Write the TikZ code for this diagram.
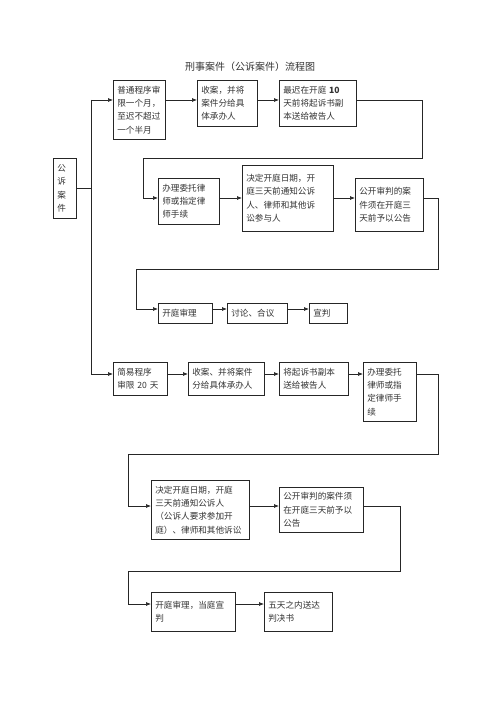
\documentclass[tikz,border=0pt]{standalone}
\usepackage{fontspec}
\setmainfont{Noto Sans CJK SC}
\usetikzlibrary{arrows.meta}
\newcommand\mybox[6]{\pgfmathsetmacro\bxtw{#4-8}\node[box, minimum width=#4pt, minimum height=#5pt, text width=\bxtw pt] (#1) at (#2,#3) {#6};}
\begin{document}
\begin{tikzpicture}[x=1pt,y=-1pt,
 box/.style={draw=black!85, line width=0.7pt, anchor=north west, inner xsep=4pt, inner ysep=2pt, align=left, font=\fontsize{8.6}{13.3}\selectfont, text=black!80},
 arr/.style={draw=black!85, line width=0.7pt, -{Latex[length=5pt,width=4pt]}},
 ln/.style={draw=black!85, line width=0.7pt}]
\fill[white] (0,0) rectangle (500,708);
\useasboundingbox (0,0) rectangle (500,708);
\node[font=\fontsize{10}{12}\selectfont, text=black!80] (title) at (250,67) {刑事案件（公诉案件）流程图};
% left
\mybox{gs}{53}{158}{23}{60}{公\\诉\\案\\件}
% row 1
\mybox{b1}{113}{80}{52}{59}{普通程序审\\限一个月，\\至迟不超过\\一个半月}
\mybox{b2}{197}{80}{60}{46}{收案，并将\\案件分给具\\体承办人}
\mybox{b3}{279}{80}{77}{46}{最迟在开庭 \textbf{10}\\天前将起诉书副\\本送给被告人}
% row 2
\mybox{c1}{158}{178}{61}{46}{办理委托律\\师或指定律\\师手续}
\mybox{c2}{242}{165}{91}{66}{决定开庭日期，开\\庭三天前通知公诉\\人、律师和其他诉\\讼参与人}
\mybox{c3}{355}{178}{68}{53}{公开审判的案\\件须在开庭三\\天前予以公告}
% row 3
\mybox{f1}{158}{303}{54}{20}{开庭审理}
\mybox{f2}{227}{303}{60}{20}{讨论、合议}
\mybox{f3}{309}{303}{38}{20}{宣判}
% branch 2
\mybox{s1}{113}{362}{54}{33}{简易程序\\审限 20 天}
\mybox{s2}{188}{362}{76}{33}{收案、并将案件\\分给具体承办人}
\mybox{s3}{279}{362}{69}{33}{将起诉书副本\\送给被告人}
\mybox{s4}{363}{362}{53}{59}{办理委托\\律师或指\\定律师手\\续}
\mybox{d1}{151}{480}{98}{59}{决定开庭日期，开庭\\三天前通知公诉人\\（公诉人要求参加开\\庭）、律师和其他诉讼}
\mybox{d2}{279}{487}{84}{45}{公开审判的案件须\\在开庭三天前予以\\公告}
\mybox{e1}{151}{592}{84}{39}{开庭审理，当庭宣\\判}
\mybox{e2}{264}{592}{68}{39}{五天之内送达\\判决书}
% connectors
\coordinate (t1) at (91,100);
\coordinate (t2) at (91,374);
\draw[ln] (gs.east) -- (gs.east -| t1);
\draw[ln] (t1) -- (t2);
\draw[arr] (t1) -- (t1 -| b1.west);
\draw[arr] (t1 -| b1.east) -- (t1 -| b2.west);
\draw[arr] (t1 -| b2.east) -- (t1 -| b3.west);
\coordinate (k1) at (422,158);
\coordinate (k2) at (143,198);
\draw[arr] (t1 -| b3.east) -| (k1) -| (k2) -- (k2 -| c1.west);
\draw[arr] (k2 -| c1.east) -- (k2 -| c2.west);
\draw[arr] (k2 -| c2.east) -- (k2 -| c3.west);
\coordinate (k3) at (438,269);
\coordinate (k4) at (136,309);
\draw[arr] (k2 -| c3.east) -| (k3) -| (k4) -- (k4 -| f1.west);
\draw[arr] (k4 -| f1.east) -- (k4 -| f2.west);
\draw[arr] (k4 -| f2.east) -- (k4 -| f3.west);
\draw[arr] (t2) -- (t2 -| s1.west);
\draw[arr] (t2 -| s1.east) -- (t2 -| s2.west);
\draw[arr] (t2 -| s2.east) -- (t2 -| s3.west);
\draw[arr] (t2 -| s3.east) -- (t2 -| s4.west);
\coordinate (k5) at (438,454);
\coordinate (k6) at (128,506);
\draw[arr] (t2 -| s4.east) -| (k5) -| (k6) -- (k6 -| d1.west);
\draw[arr] (k6 -| d1.east) -- (k6 -| d2.west);
\coordinate (k7) at (400,571);
\coordinate (k8) at (128,604);
\draw[arr] (k6 -| d2.east) -| (k7) -| (k8) -- (k8 -| e1.west);
\draw[arr] (k8 -| e1.east) -- (k8 -| e2.west);
\end{tikzpicture}
\end{document}
